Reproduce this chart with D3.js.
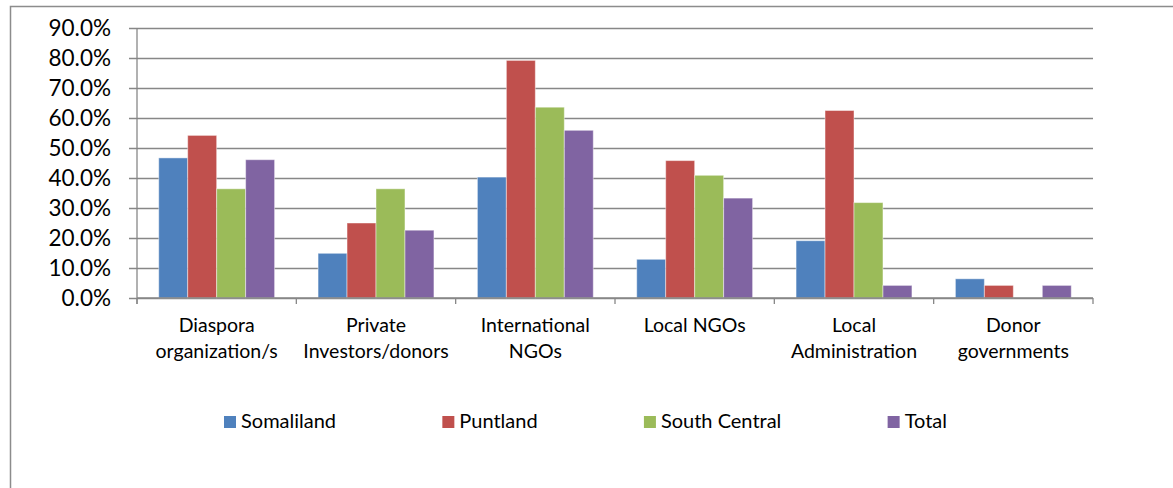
<!DOCTYPE html>
<html>
<head>
<meta charset="utf-8">
<script src="https://cdn.jsdelivr.net/npm/d3@7"></script>
<style>
  body { margin: 0; background: #fff; }
  svg text { font-family: Lato, "Open Sans", sans-serif; fill: #000; }
</style>
</head>
<body>
<script>
var categories = ["Diaspora organization/s", "Private Investors/donors", "International NGOs",
                  "Local NGOs", "Local Administration", "Donor governments"];
var categoryLines = [["Diaspora", "organization/s"], ["Private", "Investors/donors"], ["International", "NGOs"],
                     ["Local NGOs"], ["Local", "Administration"], ["Donor", "governments"]];
var seriesNames = ["Somaliland", "Puntland", "South Central", "Total"];
var seriesColors = ["#4F81BD", "#C0504D", "#9BBB59", "#8064A2"];

var somaliland   = [0.467, 0.149, 0.403, 0.129, 0.191, 0.064];
var puntland     = [0.542, 0.250, 0.792, 0.458, 0.625, 0.042];
var southCentral = [0.364, 0.364, 0.636, 0.409, 0.318, 0.0];
var total        = [0.461, 0.226, 0.559, 0.333, 0.042, 0.042];
var seriesValues = [somaliland, puntland, southCentral, total];

var yTicks = [0, 0.1, 0.2, 0.3, 0.4, 0.5, 0.6, 0.7, 0.8, 0.9];

var chartW = 1173, chartH = 488;
var plotL = 137, plotR = 1093, plotT = 28, plotB = 298;
var gridColor = "#878787";

var svg = d3.select("body").append("svg")
    .attr("width", chartW)
    .attr("height", chartH);

// chart frame
svg.append("rect")
    .attr("x", 10.5).attr("y", 6.5)
    .attr("width", 1180).attr("height", 500)
    .style("fill", "none")
    .style("stroke", "#8c8c8c")
    .style("stroke-width", 1.5);

var x0 = d3.scaleBand().domain(categories).range([plotL, plotR]).paddingInner(0).paddingOuter(0);
var barW = x0.bandwidth() / (seriesNames.length + 1.5);
var x1 = d3.scaleBand().domain(seriesNames)
    .range([barW * 0.75, barW * 0.75 + barW * seriesNames.length]);
var y = d3.scaleLinear().domain([0, 0.9]).range([plotB, plotT]);

// gridlines + y labels
var yAxis = d3.axisLeft(y)
    .tickValues(yTicks)
    .tickSize(-(plotR - plotL))
    .tickFormat(d3.format(".1%"));

var gy = svg.append("g")
    .attr("transform", "translate(" + plotL + ",0)")
    .call(yAxis);
gy.select(".domain").remove();
gy.selectAll(".tick line")
    .attr("x1", -8)
    .style("stroke", gridColor)
    .style("stroke-width", 1.3);
gy.selectAll(".tick text")
    .attr("x", -26)
    .style("font-size", "22.5px")
    .style("fill", "#000");

// y axis line
svg.append("line")
    .attr("x1", plotL).attr("x2", plotL)
    .attr("y1", plotT).attr("y2", plotB + 6)
    .style("stroke", gridColor).style("stroke-width", 1.3);

// bars
var groups = svg.append("g").selectAll("g")
    .data(categories)
    .join("g")
    .attr("transform", function (d) { return "translate(" + x0(d) + ",0)"; });

groups.selectAll("rect")
    .data(function (d, i) {
        return seriesNames.map(function (s, k) { return { s: s, v: seriesValues[k][i], c: seriesColors[k] }; });
    })
    .join("rect")
    .attr("x", function (d) { return x1(d.s); })
    .attr("width", x1.bandwidth())
    .attr("y", function (d) { return y(d.v); })
    .attr("height", function (d) { return y(0) - y(d.v); })
    .style("fill", function (d) { return d.c; })
    .style("stroke", function (d) { return d.v > 0 ? "rgba(255,255,255,0.45)" : "none"; })
    .style("stroke-width", 1);

// x axis line + ticks
svg.append("line")
    .attr("x1", plotL).attr("x2", plotR)
    .attr("y1", plotB).attr("y2", plotB)
    .style("stroke", gridColor).style("stroke-width", 1.3);

var xTickPos = categories.map(function (d) { return x0(d); }).concat([plotR]);
svg.append("g").selectAll("line")
    .data(xTickPos)
    .join("line")
    .attr("x1", function (d) { return d; })
    .attr("x2", function (d) { return d; })
    .attr("y1", plotB).attr("y2", plotB + 6)
    .style("stroke", gridColor).style("stroke-width", 1.3);

// category labels
var labels = svg.append("g").selectAll("text")
    .data(categories)
    .join("text")
    .attr("text-anchor", "middle")
    .attr("x", function (d) { return x0(d) + x0.bandwidth() / 2; })
    .attr("y", 332)
    .style("font-size", "19.5px");

labels.selectAll("tspan")
    .data(function (d, i) { return categoryLines[i]; })
    .join("tspan")
    .attr("x", function () { return d3.select(this.parentNode).attr("x"); })
    .attr("dy", function (d, i) { return i === 0 ? 0 : 26; })
    .text(function (d) { return d; });

// legend
var legendStart = 224, legendEnd = 947, legendY = 416;
var legend = svg.append("g");
var items = legend.selectAll("g")
    .data(seriesNames)
    .join("g");
items.append("rect")
    .attr("width", 12).attr("height", 12)
    .style("fill", function (d, i) { return seriesColors[i]; });
items.append("text")
    .attr("x", 17)
    .attr("y", 11.5)
    .style("font-size", "20px")
    .text(function (d) { return d; });

var itemW = [];
items.each(function () { itemW.push(17 + d3.select(this).select("text").node().getComputedTextLength()); });
var gap = (legendEnd - legendStart - d3.sum(itemW)) / (seriesNames.length - 1);
var pos = legendStart;
items.attr("transform", function (d, i) {
    var p = pos;
    pos += itemW[i] + gap;
    return "translate(" + p + "," + legendY + ")";
});
</script>
</body>
</html>
